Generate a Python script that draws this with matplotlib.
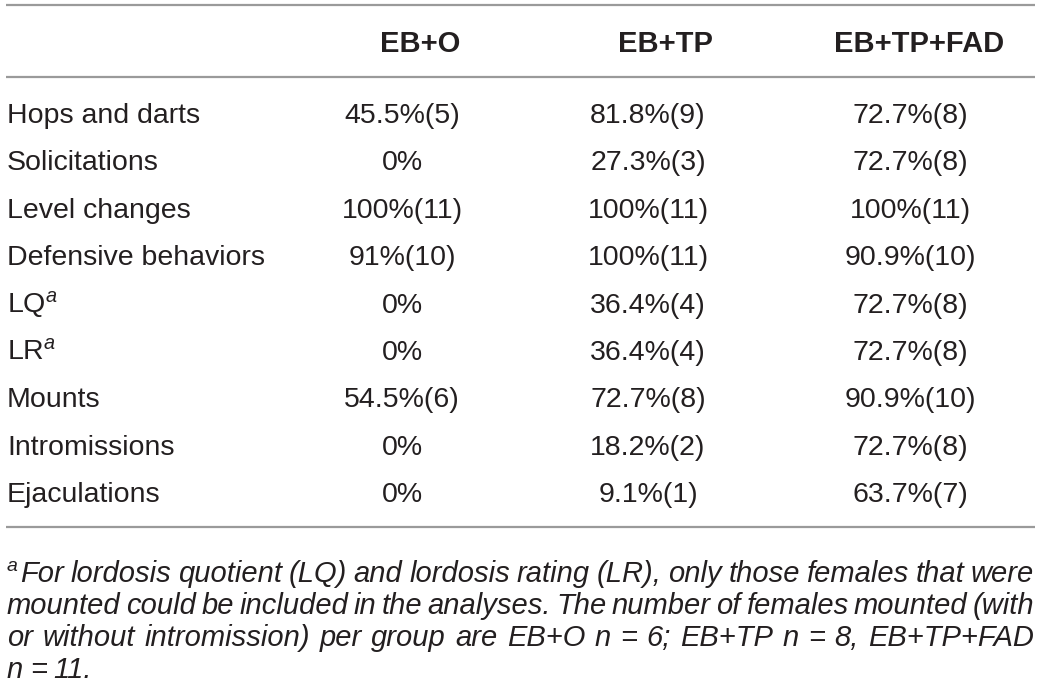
import matplotlib
matplotlib.use("Agg")
import matplotlib.pyplot as plt

plt.rcParams['font.family'] = ['Liberation Sans', 'DejaVu Sans']
plt.rcParams['mathtext.fontset'] = 'custom'
plt.rcParams['mathtext.rm'] = 'Liberation Sans'
plt.rcParams['mathtext.it'] = 'Liberation Sans:italic'

# table content
groups = ['EB+O', 'EB+TP', 'EB+TP+FAD']
behaviors = ['Hops and darts', 'Solicitations', 'Level changes', 'Defensive behaviors',
             'LQ$^{a}$', 'LR$^{a}$', 'Mounts', 'Intromissions', 'Ejaculations']
eb_o = ['45.5%(5)', '0%', '100%(11)', '91%(10)', '0%', '0%', '54.5%(6)', '0%', '0%']
eb_tp = ['81.8%(9)', '27.3%(3)', '100%(11)', '100%(11)', '36.4%(4)', '36.4%(4)',
         '72.7%(8)', '18.2%(2)', '9.1%(1)']
eb_tp_fad = ['72.7%(8)', '72.7%(8)', '100%(11)', '90.9%(10)', '72.7%(8)', '72.7%(8)',
             '90.9%(10)', '72.7%(8)', '63.7%(7)']
footnote_lines = [
    'For lordosis quotient (LQ) and lordosis rating (LR), only those females that were',
    'mounted could be included in the analyses. The number of females mounted (with',
    'or without intromission) per group are EB+O n = 6; EB+TP n = 8, EB+TP+FAD',
    'n = 11.',
]

W, H = 1040, 683
fig = plt.figure(figsize=(W / 100, H / 100), dpi=100)
ax = fig.add_axes([0, 0, 1, 1])
ax.set_xlim(0, W)
ax.set_ylim(H, 0)
ax.axis('off')

txt = '#231f20'
rule = '#9a9a9a'

# horizontal rules
for y in (5, 77, 527):
    ax.plot([6, 1035], [y, y], color=rule, lw=1.6, solid_capstyle='butt')

head_x = [420, 665, 919]
data_x = [402, 648, 910]
for gx, g in zip(head_x, groups):
    ax.text(gx, 52, g, ha='center', va='baseline', fontsize=21, fontweight='bold', color=txt)

row0, dy = 123, 47.4
cols = [eb_o, eb_tp, eb_tp_fad]
for i, b in enumerate(behaviors):
    y = row0 + i * dy
    ax.text(7, y, b, ha='left', va='baseline', fontsize=20.5, color=txt)
    for cx, col in zip(data_x, cols):
        ax.text(cx, y, col[i], ha='center', va='baseline', fontsize=20.5, color=txt)

# footnote, justified like the original
fig.canvas.draw()
renderer = fig.canvas.get_renderer()
ax.text(7, 571, 'a', ha='left', va='baseline', fontsize=14, style='italic', color=txt)
fn_base = [582, 614, 646, 678]
left, right = 20, 1034
fs = 21
for k, line in enumerate(footnote_lines):
    words = line.split(' ')
    x0 = left if k == 0 else 7
    objs = [ax.text(0, fn_base[k], w, ha='left', va='baseline', fontsize=fs,
                    style='italic', color=txt) for w in words]
    widths = [o.get_window_extent(renderer).width for o in objs]
    if k < len(footnote_lines) - 1 and len(words) > 1:
        gap = (right - x0 - sum(widths)) / (len(words) - 1)
    else:
        gap = 6.5
    x = x0
    for o, w in zip(objs, widths):
        o.set_x(x)
        x += w + gap

fig.savefig('out.png', dpi=100, facecolor='white')
